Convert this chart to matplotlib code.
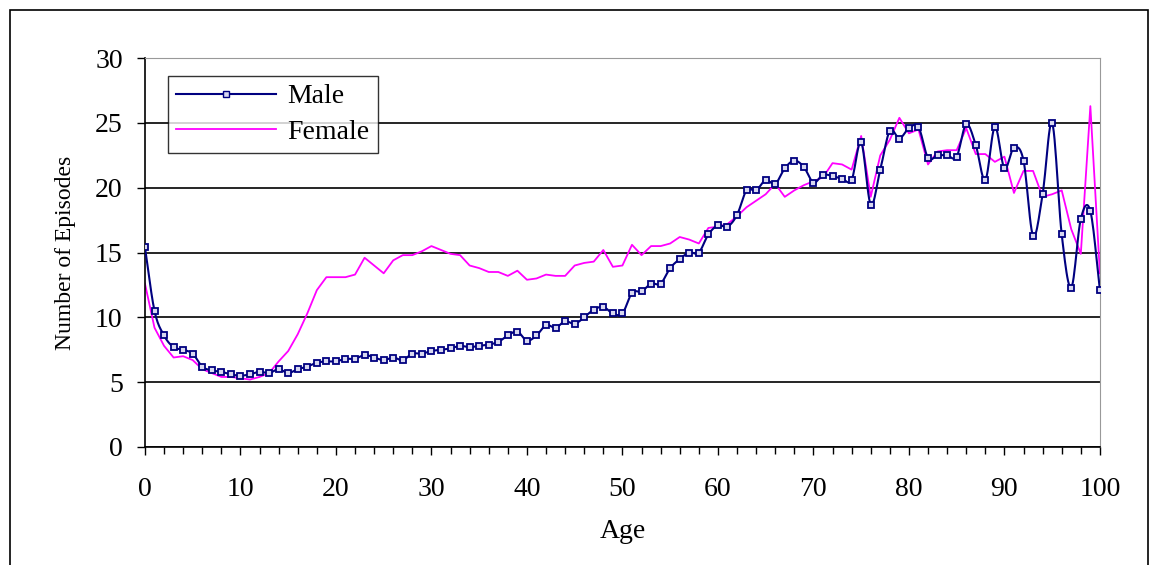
import numpy as np
import matplotlib
matplotlib.use("Agg")
import matplotlib.pyplot as plt
from matplotlib.lines import Line2D

ages = list(range(101))
male = [15.4,10.5,8.6,7.7,7.5,7.2,6.2,5.9,5.8,5.6,5.5,5.6,5.8,5.7,6.0,5.7,6.0,6.2,6.5,6.6,
        6.6,6.8,6.8,7.1,6.9,6.7,6.9,6.7,7.2,7.2,7.4,7.5,7.6,7.8,7.7,7.8,7.9,8.1,8.6,8.9,
        8.2,8.6,9.4,9.2,9.7,9.5,10.0,10.6,10.8,10.3,10.3,11.9,12.0,12.6,12.6,13.8,14.5,15.0,15.0,16.4,
        17.1,17.0,17.9,19.8,19.8,20.6,20.3,21.5,22.1,21.6,20.4,21.0,20.9,20.7,20.6,23.5,18.7,21.4,24.4,23.8,
        24.6,24.7,22.3,22.5,22.5,22.4,24.9,23.3,20.6,24.7,21.5,23.1,22.1,16.3,19.5,25.0,16.4,12.3,17.6,18.2,12.1]
female = [12.6,9.2,7.8,6.9,7.0,6.7,6.0,5.7,5.4,5.4,5.3,5.2,5.4,5.7,6.6,7.4,8.7,10.3,12.1,13.1,
          13.1,13.1,13.3,14.6,14.0,13.4,14.4,14.8,14.8,15.1,15.5,15.2,14.9,14.8,14.0,13.8,13.5,13.5,13.2,13.6,
          12.9,13.0,13.3,13.2,13.2,14.0,14.2,14.3,15.2,13.9,14.0,15.6,14.8,15.5,15.5,15.7,16.2,16.0,15.7,16.9,
          17.0,17.2,17.8,18.5,19.0,19.5,20.3,19.3,19.8,20.2,20.5,20.8,21.9,21.8,21.4,24.0,19.3,22.5,23.7,25.4,
          24.2,24.5,21.8,22.8,22.9,22.9,24.6,22.6,22.6,22.0,22.4,19.6,21.3,21.3,19.3,19.5,19.8,16.8,14.9,26.3,13.4]

def smooth(x, y, n=12):
    x = np.asarray(x, float); y = np.asarray(y, float)
    xp = np.concatenate([[2*x[0]-x[1]], x, [2*x[-1]-x[-2]]])
    yp = np.concatenate([[2*y[0]-y[1]], y, [2*y[-1]-y[-2]]])
    xs, ys = [], []
    for i in range(1, len(xp)-2):
        t = np.linspace(0, 1, n, endpoint=False)
        for arr, out in ((xp, xs), (yp, ys)):
            p0, p1, p2, p3 = arr[i-1:i+3]
            out.extend(0.5*((2*p1)+(-p0+p2)*t+(2*p0-5*p1+4*p2-p3)*t**2+(-p0+3*p1-3*p2+p3)*t**3))
    xs.append(x[-1]); ys.append(y[-1])
    return xs, ys

plt.rcParams['font.family'] = ['Liberation Serif', 'DejaVu Serif']
fig = plt.figure(figsize=(11.55, 5.65), dpi=100)
fig.patches.append(plt.Rectangle((0.009, -0.01), 0.985, 0.992, transform=fig.transFigure,
                                 fill=False, ec='black', lw=1.2))
ax = fig.add_axes([0.1255, 0.209, 0.8268, 0.688])
sx, sy = smooth(ages, male)
ax.plot(sx, sy, color='#000080', lw=1.5, zorder=3)
ax.plot(ages, male, ls='none', marker='s', ms=5, mfc='#d8d8f0', mec='#000080', mew=1.3, zorder=4)
ax.plot(ages, female, color='#ff00ff', lw=1.3, zorder=2)
h = [Line2D([], [], color='#000080', lw=1.5, marker='s', ms=5, mfc='#d8d8f0', mec='#000080'),
     Line2D([], [], color='#ff00ff', lw=1.3)]
leg = ax.legend(h, ['Male', 'Female'], loc='upper left', bbox_to_anchor=(0.024, 0.955),
                fancybox=False, edgecolor='black', fontsize=20, handlelength=3.6, handletextpad=0.4,
                borderpad=0.3, labelspacing=0.35, borderaxespad=0)
leg.get_frame().set_linewidth(1.0)
ax.set_xlim(0, 100); ax.set_ylim(0, 30)
ax.set_xticks(range(0, 101, 10))
ax.set_xticks(range(0, 101, 2), minor=True)
ax.set_yticks(range(0, 31, 5))
ax.yaxis.grid(True, color='black', lw=1.2)
ax.set_axisbelow(True)
for s in ['top', 'right']:
    ax.spines[s].set_color('#999999')
ax.spines['left'].set_linewidth(1.2); ax.spines['bottom'].set_linewidth(1.2)
ax.tick_params(axis='both', labelsize=20, direction='out', length=6, width=1)
ax.tick_params(axis='x', which='minor', length=5, width=1)
ax.tick_params(axis='x', pad=16)
ax.tick_params(axis='y', pad=10)
ax.set_xlabel('Age', fontsize=20, labelpad=12)
ax.set_ylabel('Number of Episodes', fontsize=17, labelpad=14)
fig.savefig('out.png', dpi=100)
